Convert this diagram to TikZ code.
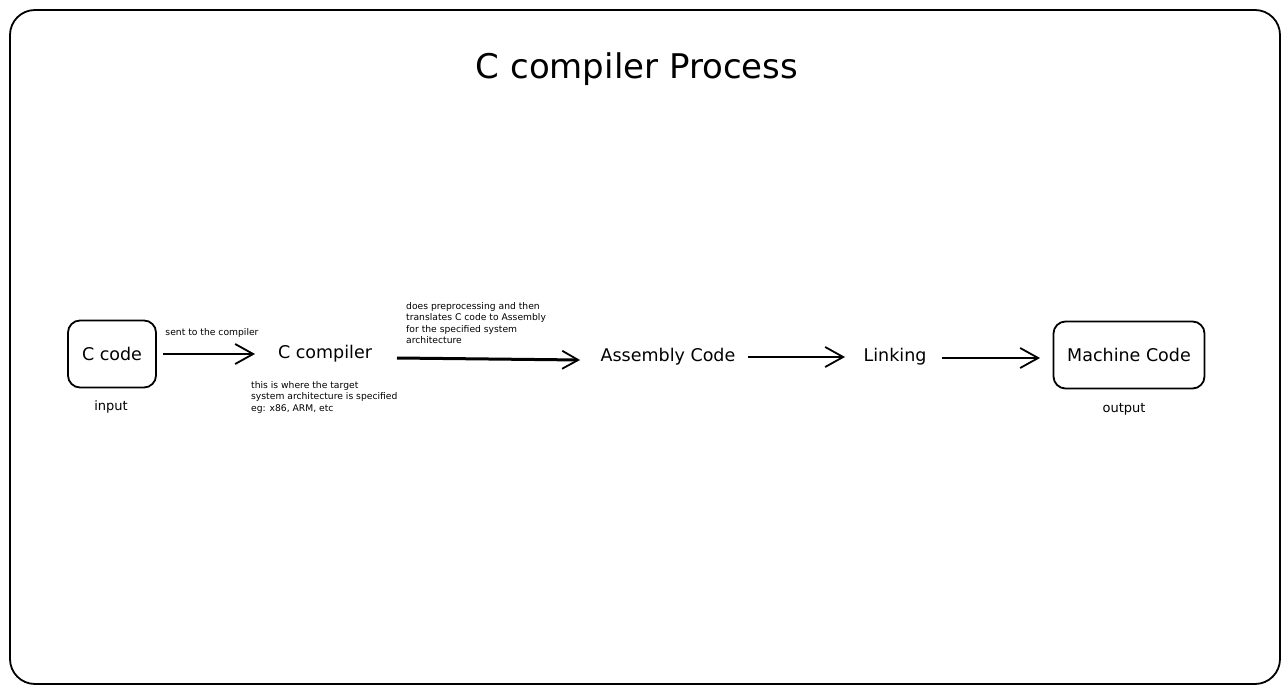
\documentclass[tikz,border=0pt]{standalone}
\usepackage{fontspec}
\setmainfont{DejaVu Sans}
\usetikzlibrary{arrows.meta}
\begin{document}
\begin{tikzpicture}[x=1pt,y=-1pt,
  box/.style={draw, line width=1.8pt, rounded corners=12pt, inner sep=0pt, font=\fontsize{17.5}{20}\selectfont},
  lbl/.style={inner sep=0pt, font=\fontsize{17.5}{20}\selectfont},
  small/.style={inner sep=0pt, font=\fontsize{13}{15}\selectfont},
  tiny/.style={inner sep=0pt, font=\fontsize{9.2}{11.6}\selectfont, align=left},
  arr/.style={line width=1.8pt, -{Straight Barb[length=18pt,width=20pt,line width=1.8pt]}},
  thickarr/.style={line width=3pt, -{Straight Barb[length=16pt,width=18pt,line width=1.8pt]}}]
\useasboundingbox (0,0) rectangle (1288,692);
\draw[line width=1.8pt, rounded corners=25pt] (10,10) rectangle (1280,684);
\node[inner sep=0pt, font=\fontsize{34}{38}\selectfont] (title) at (637,69) {C compiler Process};

\node[box, minimum width=88pt, minimum height=67pt] (ccode) at (112,354) {C code};
\node[small] (input) at (111,407) {input};
\node[lbl] (ccomp) at (325,354) {C compiler};
\node[lbl] (asm) at (668,357) {Assembly Code};
\node[lbl] (link) at (895,357) {Linking};
\node[box, minimum width=151pt, minimum height=67pt] (mcode) at (1129,355) {Machine Code};
\node[small] (output) at (1124,409) {output};

\node[tiny, anchor=south] (sent) at (212,338) {sent to the compiler};
\node[tiny, anchor=north west] (note1) at (251,381) {this is where the target\\system architecture is specified\\eg: x86, ARM, etc};
\node[tiny, anchor=north west] (note2) at (406,302) {does preprocessing and then\\translates C code to Assembly\\for the specified system\\architecture};

\coordinate (a1) at (163,354);
\coordinate (a1e) at (255,354);
\coordinate (a2) at (397,358);
\coordinate (a2e) at (580,360);
\coordinate (a3) at (748,357);
\coordinate (a3e) at (845,357);
\coordinate (a4) at (942,358);
\coordinate (a4e) at (1040,358);
\draw[arr] (a1) -- (a1e);
\draw[thickarr] (a2) -- (a2e);
\draw[arr] (a3) -- (a3e);
\draw[arr] (a4) -- (a4e);
\end{tikzpicture}
\end{document}
